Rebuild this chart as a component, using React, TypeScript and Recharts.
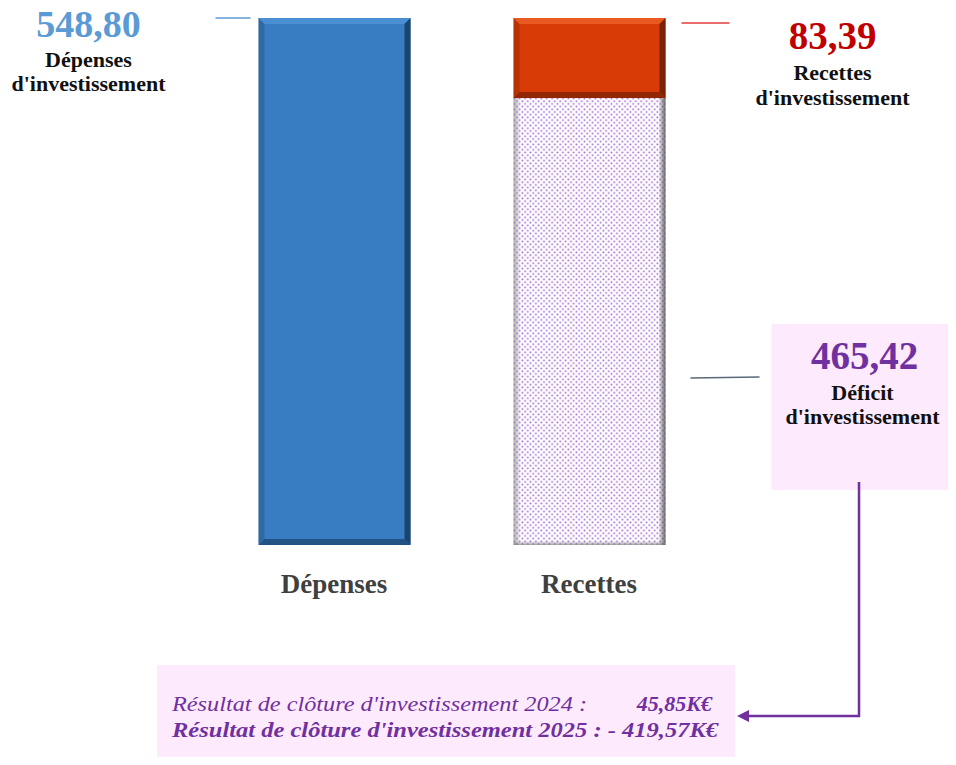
import React from 'react';
import { BarChart, Bar, XAxis, YAxis, LabelList } from 'recharts';

const categories = ['Dépenses', 'Recettes'];
const depenses = [548.8, 0];
const recettes = [0, 83.39];
const deficit = [0, 465.42];
const result2024 = { text: "Résultat de clôture d'investissement 2024 :", value: '45,85K€' };
const result2025 = "Résultat de clôture d'investissement 2025 : - 419,57K€";

const data = categories.map((name, i) => ({
  name,
  depenses: depenses[i],
  recettes: recettes[i],
  deficit: deficit[i],
}));

const FONT = '"Liberation Serif", "Times New Roman", serif';
const fmt = (v: number) => v.toFixed(2).replace('.', ',');

// bar with a bevelled edge, like the office chart
const bevel = (fill: string, light: string, dark: string) => (props: any) => {
  const { x, y, width: w, height: h } = props;
  if (!h || h <= 0) return null;
  const b = 6;
  return (
    <g>
      <rect x={x} y={y} width={w} height={h} fill={fill} />
      <polygon points={`${x},${y} ${x + w},${y} ${x + w - b},${y + b} ${x + b},${y + b}`} fill={light} />
      <polygon points={`${x},${y} ${x + b},${y + b} ${x + b},${y + h - b} ${x},${y + h}`} fill={dark} opacity={0.35} />
      <polygon points={`${x + w},${y} ${x + w},${y + h} ${x + w - b},${y + h - b} ${x + w - b},${y + b}`} fill={dark} />
      <polygon points={`${x},${y + h} ${x + w},${y + h} ${x + w - b},${y + h - b} ${x + b},${y + h - b}`} fill={dark} opacity={0.75} />
    </g>
  );
};

const DottedBar = (props: any) => {
  const { x, y, width: w, height: h } = props;
  if (!h || h <= 0) return null;
  return (
    <g>
      <rect x={x} y={y} width={w} height={h} fill="url(#dots)" />
      <rect x={x} y={y} width={7} height={h} fill="url(#edgeL)" />
      <rect x={x + w - 7} y={y} width={7} height={h} fill="url(#edgeR)" />
      <rect x={x} y={y + h - 4} width={w} height={4} fill="url(#edgeB)" />
    </g>
  );
};

const DepLabel = (props: any) => {
  const { x, y, value } = props;
  if (!value) return null;
  const cx = x - 170;
  return (
    <g fontFamily={FONT} fontWeight="bold" textAnchor="middle">
      <line x1={x - 43} x2={x - 8} y1={y} y2={y} stroke="#5b9bd5" strokeWidth={1.5} />
      <text x={cx} y={y + 19} fontSize={38} fill="#5b9bd5">{fmt(value)}</text>
      <text x={cx} y={y + 49} fontSize={22} fill="#111">Dépenses</text>
      <text x={cx} y={y + 73} fontSize={22} fill="#111">d'investissement</text>
    </g>
  );
};

const RecLabel = (props: any) => {
  const { x, y, width, value } = props;
  if (!value) return null;
  const r = x + width;
  const cx = r + 167;
  return (
    <g fontFamily={FONT} fontWeight="bold" textAnchor="middle">
      <line x1={r + 16} x2={r + 64} y1={y + 5} y2={y + 5} stroke="#e03c3c" strokeWidth={1.5} />
      <text x={cx} y={y + 31} fontSize={39} fill="#c00000">{fmt(value)}</text>
      <text x={cx} y={y + 62} fontSize={22} fill="#111">Recettes</text>
      <text x={cx} y={y + 87} fontSize={22} fill="#111">d'investissement</text>
    </g>
  );
};

const DefLabel = (props: any) => {
  const { x, y, width, value } = props;
  if (!value) return null;
  const r = x + width;
  const bx = r + 106;
  const by = y + 226;
  const cx = bx + 93;
  return (
    <g fontFamily={FONT} fontWeight="bold" textAnchor="middle">
      <line x1={r + 25} x2={r + 94} y1={y + 280} y2={y + 279} stroke="#5a6878" strokeWidth={1.5} />
      <rect x={bx} y={by} width={190} height={166} fill="#fdebfd" />
      <text x={cx} y={by + 45} fontSize={39} fill="#7030a0">{fmt(value)}</text>
      <text x={cx - 2} y={by + 76} fontSize={22} fill="#111">Déficit</text>
      <text x={cx - 2} y={by + 100} fontSize={22} fill="#111">d'investissement</text>
    </g>
  );
};

const CatTick = (props: any) => {
  const { x, y, payload } = props;
  return (
    <text x={x} y={y + 40} textAnchor="middle" fontFamily={FONT} fontWeight="bold" fontSize={27} fill="#404040">
      {payload.value}
    </text>
  );
};

export default function App() {
  return (
    <div style={{ position: 'relative', width: 956, height: 765, margin: -8 }}>
      <BarChart
        width={956}
        height={765}
        data={data}
        margin={{ top: 18, right: 239.5, left: 206.5, bottom: 190 }}
        barSize={152}
      >
        <defs>
          <pattern id="dots" width={5.4} height={5.4} patternUnits="userSpaceOnUse">
            <rect width={5.4} height={5.4} fill="#ffffff" />
            <rect x={0.5} y={0.5} width={1.6} height={1.6} fill="#a060d0" />
            <rect x={3.2} y={3.2} width={1.6} height={1.6} fill="#a060d0" />
          </pattern>
          <linearGradient id="edgeL" x1="0" x2="1" y1="0" y2="0">
            <stop offset="0%" stopColor="#888" stopOpacity={0.7} />
            <stop offset="100%" stopColor="#888" stopOpacity={0} />
          </linearGradient>
          <linearGradient id="edgeR" x1="0" x2="1" y1="0" y2="0">
            <stop offset="0%" stopColor="#555" stopOpacity={0} />
            <stop offset="100%" stopColor="#555" stopOpacity={0.9} />
          </linearGradient>
          <linearGradient id="edgeB" x1="0" x2="0" y1="0" y2="1">
            <stop offset="0%" stopColor="#777" stopOpacity={0} />
            <stop offset="100%" stopColor="#777" stopOpacity={0.7} />
          </linearGradient>
        </defs>
        <XAxis dataKey="name" axisLine={false} tickLine={false} tick={<CatTick />} interval={0} />
        <YAxis hide domain={[0, 'dataMax']} />
        <Bar dataKey="deficit" stackId="s" shape={DottedBar} isAnimationActive={false}>
          <LabelList dataKey="deficit" content={DefLabel} />
        </Bar>
        <Bar dataKey="recettes" stackId="s" shape={bevel('#d83b06', '#e85a22', '#7a2204')} isAnimationActive={false}>
          <LabelList dataKey="recettes" content={RecLabel} />
        </Bar>
        <Bar dataKey="depenses" stackId="s" shape={bevel('#387dc1', '#4a8fd2', '#1c4470')} isAnimationActive={false}>
          <LabelList dataKey="depenses" content={DepLabel} />
        </Bar>
      </BarChart>
      <svg width={956} height={765} style={{ position: 'absolute', left: 0, top: 0, pointerEvents: 'none' }}>
        <rect x={157} y={665} width={578} height={100} fill="#fdebfd" />
        <polyline points="859,482 859,716 748,716" fill="none" stroke="#7030a0" strokeWidth={2.5} />
        <polygon points="737,716 749,710 749,722" fill="#7030a0" />
        <g fontFamily={FONT} fontStyle="italic" fontSize={22} fill="#7030a0">
          <text x={172} y={711} textLength={415} lengthAdjust="spacingAndGlyphs">{result2024.text}</text>
          <text x={712} y={711} textAnchor="end" fontWeight="bold">{result2024.value}</text>
          <text x={172} y={737} fontWeight="bold" textLength={546} lengthAdjust="spacingAndGlyphs">{result2025}</text>
        </g>
      </svg>
    </div>
  );
}
